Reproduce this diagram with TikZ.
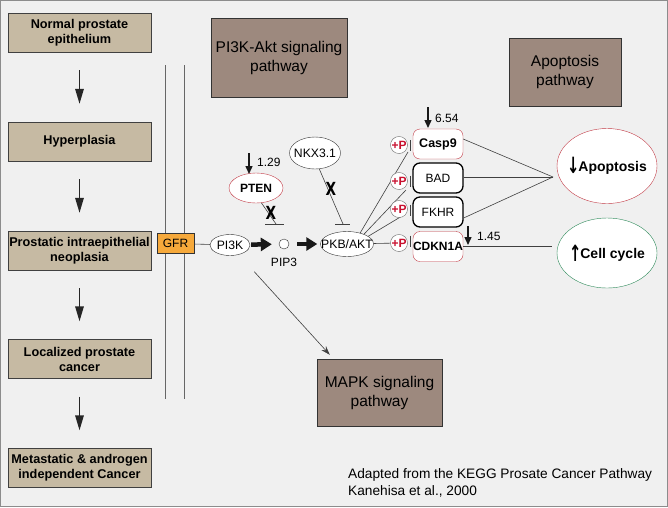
\documentclass[tikz,border=0pt]{standalone}
\usepackage{fontspec}
\setmainfont{Liberation Sans}
\newfontfamily\symfont{DejaVu Sans}
\usetikzlibrary{arrows.meta,shapes.geometric}

\definecolor{bgcol}{HTML}{F0F0F0}
\definecolor{stagecol}{HTML}{C6BAA3}
\definecolor{pathcol}{HTML}{9D897E}
\definecolor{gfrcol}{HTML}{F6A93B}
\definecolor{redline}{HTML}{C23A45}
\definecolor{pred}{HTML}{C8102E}
\definecolor{greenline}{HTML}{2E8A5A}

% text that does not widen its ellipse
\newcommand{\tight}[1]{\makebox[0pt]{#1}}
\newcommand{\bigarr}[1]{\raisebox{-2.5pt}{\scalebox{1.05}[1.6]{\symfont\bfseries #1}}\kern-1pt}

\begin{document}
\begin{tikzpicture}[x=1pt,y=-1pt,
    stage/.style={draw=black!75, fill=stagecol, minimum width=143pt, minimum height=39pt,
      inner sep=0pt, align=center, font=\fontsize{12.7}{15}\selectfont\bfseries},
    pathway/.style={draw=black!80, fill=pathcol, inner sep=0pt, align=center,
      font=\fontsize{15.5}{19}\selectfont},
    gene/.style={ellipse, draw=black!80, fill=white, inner sep=0pt, font=\fontsize{12.2}{14}\selectfont},
    target/.style={draw, rounded corners=7pt, fill=white, minimum width=50pt, minimum height=30pt,
      inner sep=0pt, font=\fontsize{12}{14}\selectfont},
    phos/.style={circle, draw=black!60, fill=white, minimum size=17pt, inner sep=0pt,
      text=pred, font=\fontsize{12}{12}\selectfont\bfseries},
    outcome/.style={ellipse, fill=white, minimum width=100pt, inner sep=0pt,
      font=\fontsize{14}{16}\selectfont\bfseries},
    stagearrow/.style={-{Triangle[length=15pt,width=8.5pt]}, line width=1.5pt, black!85},
    fatarrow/.style={-{Triangle[length=11pt,width=13pt]}, line width=4.5pt, black!90},
    dnarrow/.style={-{Triangle[length=8pt,width=7pt]}, line width=1.4pt, black!90},
    link/.style={black!75, line width=0.6pt},
    cross/.style={font=\symfont\fontsize{19}{19}\selectfont\bfseries, xscale=0.72, yscale=0.95, inner sep=0pt},
    small/.style={font=\fontsize{12}{14}\selectfont, inner sep=0pt}]

    % background and frame
    \fill[bgcol] (0,0) rectangle (668,507);
    \draw[black!45, line width=1pt] (0.5,0.5) rectangle (667.5,506.5);

    % stages of the disease
    \node[stage] (s1) at (79.5,32.5) {Normal prostate\\epithelium};
    \node[stage] (s2) at (79.5,141.5) {Hyperplasia};
    \node[stage] (s3) at (79.5,250.5) {Prostatic intraepithelial\\neoplasia};
    \node[stage] (s4) at (79.5,359) {Localized prostate\\cancer};
    \node[stage] (s5) at (79.5,468) {Metastatic \& androgen\\independent Cancer};
    \foreach \a/\b in {s1/s2,s2/s3,s3/s4,s4/s5}
      \draw[stagearrow, shorten <=18pt, shorten >=18pt] (\a) -- (\b);

    % cell membrane
    \draw[black!60, line width=0.8pt] (165,65) -- (165,399);
    \draw[black!60, line width=0.8pt] (184,65) -- (184,399);

    % linked pathways
    \node[pathway, minimum width=136pt, minimum height=79pt] (akt path) at (279,57.5) {PI3K-Akt signaling\\pathway};
    \node[pathway, minimum width=112pt, minimum height=68pt] (apo path) at (565,72) {Apoptosis\\pathway};
    \node[pathway, minimum width=125pt, minimum height=67pt] (mapk) at (379.5,392.5) {MAPK signaling\\pathway};

    % receptor and PI3K/AKT axis
    \node[draw=black!80, fill=gfrcol, minimum width=37pt, minimum height=20pt, inner sep=0pt,
      font=\fontsize{12}{14}\selectfont] (gfr) at (175.5,243.5) {GFR};
    \node[gene, minimum width=40pt, minimum height=21pt] (pi3k) at (230,245) {\tight{PI3K}};
    \node[circle, draw=black!80, fill=white, minimum size=10pt, inner sep=0pt] (pip3) at (284,244) {};
    \node[small] (pip3 lbl) at (284,262) {PIP3};
    \node[gene, minimum width=53pt, minimum height=25pt] (pkb) at (347,244) {\tight{PKB/AKT}};
    \draw[link] (gfr) -- (pi3k);
    \draw[fatarrow, shorten <=1pt, shorten >=7pt] (pi3k) -- (pip3);
    \draw[fatarrow, shorten <=8pt, shorten >=3pt] (pip3) -- (pkb);
    \draw[-{Stealth[length=9pt,width=6pt]}, link, shorten <=23pt] (pi3k) -- ([xshift=13pt,yshift=4pt]mapk.north west);

    % PTEN inhibits PIP3
    \node[gene, draw=redline, minimum width=54pt, minimum height=30pt, font=\fontsize{12}{14}\selectfont\bfseries] (pten) at (256,188) {\tight{PTEN}};
    \coordinate (pten in) at (249,153);
    \draw[dnarrow] (pten in) -- ++(0,21);
    \node[small, anchor=west] (pten fc) at (257,162) {1.29};
    \coordinate (pten bar) at (276,224);
    \draw[link] (pten.-70) -- (pten bar);
    \draw[link] ([xshift=-11pt]pten bar) -- ([xshift=8pt]pten bar);
    \node[cross] (pten x) at (271,213) {X};

    % NKX3.1 inhibits PKB/AKT
    \node[gene, minimum width=51pt, minimum height=32pt] (nkx) at (315,153) {\tight{NKX3.1}};
    \coordinate (nkx bar) at (343,224);
    \draw[link] (nkx.-75) -- (nkx bar);
    \draw[link] ([xshift=-8pt]nkx bar) -- ([xshift=7pt]nkx bar);
    \node[cross] (nkx x) at (331,189) {X};

    % targets of PKB/AKT
    \draw[link] (pkb.40) -- (408,152);
    \draw[link] (pkb.30) -- (406,190);
    \draw[link] (pkb.20) -- (402,216);
    \node[phos] (p1) at (399,145) {+P};
    \node[phos] (p2) at (399,181) {+P};
    \node[phos] (p3) at (399,209) {+P};
    \node[phos] (p4) at (399,243) {+P};
    \draw[link] (pkb) -- (p4);
    \foreach \y in {145.5,181,210,241}
      \draw[link] (410,\y-5.5) -- (410,\y+5.5);

    \node[target, draw=redline, font=\fontsize{12.5}{14}\selectfont\bfseries] (casp9) at (438,144) {Casp9};
    \node[target, line width=1.3pt] (bad) at (438,178) {BAD};
    \node[target, line width=1.3pt] (fkhr) at (438,212) {FKHR};
    \node[target, draw=redline, font=\fontsize{12}{14}\selectfont\bfseries] (cdkn) at (438,246.5) {CDKN1A};

    \coordinate (casp in) at (428,107);
    \draw[dnarrow] (casp in) -- ++(0,21);
    \node[small, anchor=west] (casp fc) at (435,118) {6.54};
    \coordinate (cdkn in) at (468,226);
    \draw[dnarrow] (cdkn in) -- ++(0,19);
    \node[small, anchor=west] (cdkn fc) at (477,236) {1.45};

    % outcomes
    \node[outcome, draw=redline, minimum height=75pt] (apo) at (607,166) {\tight{\bigarr{↓}Apoptosis}};
    \node[outcome, draw=greenline, minimum height=70pt] (cell) at (607,253) {\tight{\bigarr{↑}Cell cycle}};
    \coordinate (apo join) at (553,177);
    \draw[link] ([yshift=5pt]casp9.east) -- (apo join);
    \draw[link] ([yshift=1pt]bad.east) -- (apo join);
    \draw[link] ([yshift=-6pt]fkhr.east) -- (apo join);
    \draw[link, shorten >=5pt] (cdkn) -- (cdkn -| cell.west);

    % source
    \node[anchor=west, align=left, inner sep=0pt, font=\fontsize{13.7}{17}\selectfont] (src) at (348,482.5)
      {Adapted from the KEGG Prosate Cancer Pathway\\Kanehisa et al., 2000};
\end{tikzpicture}
\end{document}
